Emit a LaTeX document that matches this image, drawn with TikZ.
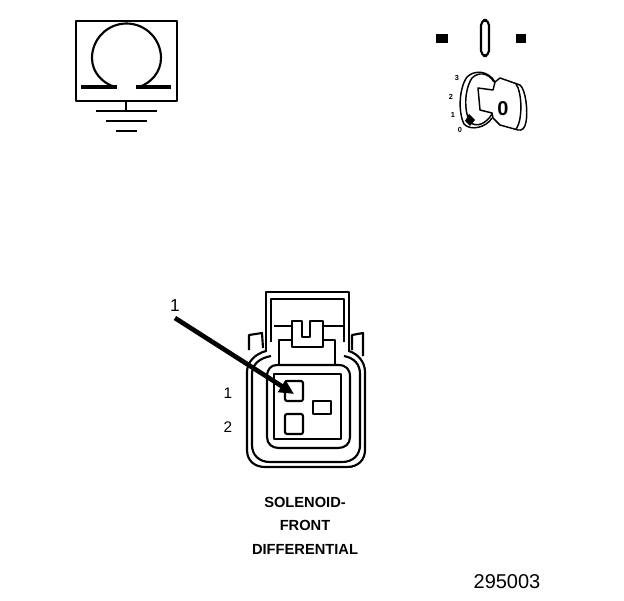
\documentclass[tikz,border=0pt]{standalone}
\usepackage{fontspec}
\setmainfont{Liberation Sans}
\usetikzlibrary{arrows.meta}
\tikzset{
 px/.style={x=0.75pt,y=-0.75pt},
 ln/.style={draw=black,line width=1.6pt,line join=round},
 thin ln/.style={draw=black,line width=1.1pt,line join=round},
 lbl/.style={inner sep=0pt,font=\fontsize{11.5pt}{13pt}\selectfont},
 captxt/.style={inner sep=0pt,font=\fontsize{11pt}{13pt}\selectfont\bfseries},
 tiny lbl/.style={inner sep=0pt,font=\fontsize{5.5pt}{6pt}\selectfont\bfseries},
}
\begin{document}
\begin{tikzpicture}[px]
\useasboundingbox (0,0) rectangle (624,600);
% ohmmeter
\draw[ln] (76,21) rectangle (177,101);
\draw[ln] (115,87) .. controls (102,83) and (92,72) .. (92,58) .. controls (92,39) and (107.5,23.5) .. (126.5,23.5) .. controls (145.5,23.5) and (161,39) .. (161,58) .. controls (161,72) and (151,83) .. (139,87);
\draw[ln,line width=2.6pt] (81,87) -- (117,87);
\draw[ln,line width=2.6pt] (136,87) -- (171,87);
\draw[ln] (126,101) -- (126,111);
\draw[ln] (96,111) -- (157,111);
\draw[ln] (106,121) -- (147,121);
\draw[ln] (116,131) -- (137,131);
% ignition pins
\fill (436,34) rectangle (448,43);
\fill (516,34) rectangle (526,43);
\draw[ln,rounded corners=3.9] (481,20) rectangle (489,56);
% key
\draw[thin ln] (492,114) .. controls (486,124) and (476,128) .. (470,122) .. controls (464,112) and (464,90) .. (472,78) .. controls (478,72) and (488,72) .. (494,82);
\draw[thin ln] (492,118) .. controls (486,128) and (470,131) .. (464,124) .. controls (458,112) and (459,88) .. (467,77) .. controls (474,70) and (488,70) .. (495,82);
\draw[thin ln] (478,88) -- (493,90) -- (495,82) -- (500,78) -- (520,85) .. controls (526,90) and (528,112) .. (526,122) .. controls (525,128) and (522,131) .. (518,130) -- (500,125) -- (493,118) -- (492,113) -- (480,110) -- cycle;
\draw[thin ln] (516,84) .. controls (522,92) and (523,120) .. (516,129);
\fill (469,114) -- (475,120) -- (470,126) -- (465,121) -- cycle;
\node[inner sep=0pt,font=\fontsize{15pt}{16pt}\selectfont\bfseries] (keyzero) at (503,109) {0};
\node[tiny lbl] (k3) at (457,78) {3};
\node[tiny lbl] (k2) at (451,97) {2};
\node[tiny lbl] (k1) at (453,115) {1};
\node[tiny lbl] (k0) at (460,130) {0};
% connector housing
\draw[ln] (266,352) -- (266,292) -- (349,292) -- (349,352);
\draw[ln] (271,342) -- (271,299) -- (344,299) -- (344,342);
\draw[ln] (274,326) -- (292,326);
\draw[ln] (323,326) -- (344,326);
\draw[ln] (292,321) -- (302,321) -- (302,337) -- (310,337) -- (310,321) -- (323,321) -- (323,347) -- (292,347) -- cycle;
\draw[ln] (279,365) -- (279,340) -- (292,340);
\draw[ln] (323,340) -- (335,340) -- (335,365);
\draw[ln] (249,350) -- (249,335) -- (262,333) -- (263,348);
\draw[ln] (352,350) -- (352,335) -- (363,333) -- (363,356);
% body shells
\draw[ln] (266,351) .. controls (255,354) and (247,362) .. (247,372) -- (247,450) .. controls (247,461) and (255,467) .. (265,467) -- (347,467) .. controls (358,467) and (365,460) .. (365,450) -- (365,372) .. controls (365,362) and (358,354) .. (349,351);
\draw[ln] (271,356) .. controls (260,358) and (252,364) .. (252,374) -- (252,445) .. controls (252,455) and (259,462) .. (270,462) -- (342,462) .. controls (353,462) and (360,455) .. (360,445) -- (360,374) .. controls (360,364) and (354,358) .. (344,356);
\draw[ln] (277,365) -- (338,365) .. controls (346,365) and (350,369) .. (350,377) -- (350,437) .. controls (350,444) and (345,448) .. (338,448) -- (279,448) .. controls (272,448) and (267,444) .. (267,437) -- (267,377) .. controls (267,369) and (271,365) .. (277,365) -- cycle;
\draw[ln] (274,374) rectangle (341,439);
% pins
\draw[ln,rounded corners=1.5pt] (285,381) rectangle (303,401);
\draw[ln,rounded corners=1.5pt] (285,414) rectangle (303,434);
\draw[ln] (313,401) rectangle (331,414);
% arrow
\coordinate (astart) at (175,318);
\coordinate (atip) at (294,394);
\draw[line width=3.5pt,-{Triangle[length=11pt,width=10pt]}] (astart) -- (atip);
% labels
\node[lbl,font=\fontsize{13pt}{15pt}\selectfont] (arrowlbl) at (175,306) {1};
\node[lbl] (pin1) at (228,393) {1};
\node[lbl] (pin2) at (228,427) {2};
\node[captxt] (c1) at (305,502) {SOLENOID-};
\node[captxt] (c2) at (305,525) {FRONT};
\node[captxt] (c3) at (305,549) {DIFFERENTIAL};
\node[inner sep=0pt,font=\fontsize{15pt}{16pt}\selectfont] (fig) at (507,582) {295003};
\end{tikzpicture}
\end{document}
